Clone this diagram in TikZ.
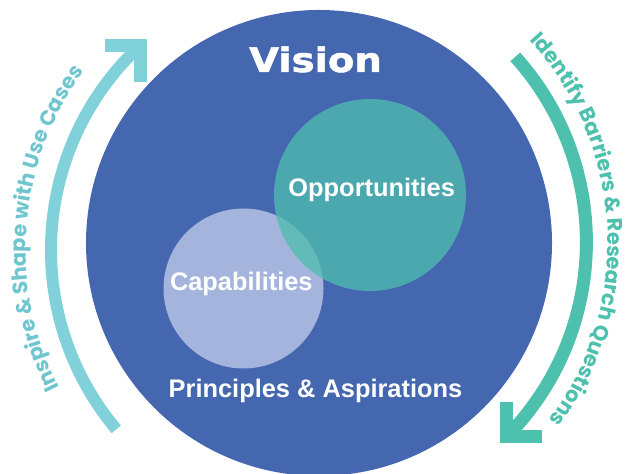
\documentclass[tikz,border=0pt]{standalone}
\usepackage{fontspec}
\setmainfont{Liberation Sans}
\newfontfamily\visionfont{DejaVu Sans}[BoldFeatures={FakeBold=1.5}]
\newfontfamily\arcfont{Poppins}
\usetikzlibrary{decorations.text}

\definecolor{visionblue}{RGB}{68,103,176}
\definecolor{capfill}{RGB}{164,180,220}
\definecolor{oppfill}{RGB}{78,190,174}
\definecolor{leftarrow}{RGB}{128,209,218}
\definecolor{lefttext}{RGB}{112,198,207}
\definecolor{rightarrow}{RGB}{77,192,174}

\tikzset{
  disc/.style={circle, inner sep=0pt, draw=none},
  bigword/.style={text=white, anchor=base, inner sep=0pt,
    font=\bfseries\fontsize{25.5}{26}\selectfont},
  cyclearrow/.style={line width=#1, line cap=butt, line join=miter},
}

\begin{document}
\begin{tikzpicture}[x=1bp, y=1bp]
  \useasboundingbox (0,0) rectangle (628,474);

  % outer vision disc and the two overlapping discs
  \node[disc, fill=visionblue, minimum size=466bp] (vision) at (319,231) {};
  \node[disc, fill=capfill, minimum size=160bp] (cap) at (243.5,185.5) {};
  \node[disc, fill=oppfill, fill opacity=0.75, minimum size=192bp] (opp) at (370,279) {};

  % labels
  \node[text=white, anchor=base, inner sep=0pt,
        font=\visionfont\bfseries\fontsize{34}{34}\selectfont]
        (visionlabel) at (315.5,402) {\scalebox{1.14}[1]{Vision}};
  \node[bigword] (opplabel) at (371.7,277) {Opportunities};
  \node[bigword] (caplabel) at (241.3,183.3) {Capabilities};
  \node[bigword] (pralabel) at (315.5,76) {Principles \& Aspirations};

  % left cycle arrow: arc upward ending in an open chevron head
  \coordinate (lc) at (330,224);
  \draw[cyclearrow=12bp, leftarrow] (lc) ++(220:279) arc[start angle=220, end angle=134, radius=279];
  \draw[cyclearrow=13bp, leftarrow] (105,428.5) -- (140.5,428.5) -- (140.5,392);

  % right cycle arrow: arc downward ending in an open chevron head
  \coordinate (rc) at (309.4,231.8);
  \draw[cyclearrow=13bp, rightarrow] (rc) ++(42:277) arc[start angle=42, end angle=-43.5, radius=277];
  \draw[cyclearrow=13bp, rightarrow] (506.5,72) -- (506.5,37.5) -- (542,37.5);

  % curved captions along the arrows
  \path[decorate, decoration={text along path, text align=center, text color=lefttext,
        text={|\arcfont\bfseries\fontsize{21}{21}\selectfont|Inspire {\&} Shape with Use Cases}}]
    (lc) ++(215:304) arc[start angle=215, end angle=136, radius=304];
  \path[decorate, decoration={text along path, text align=center, text color=rightarrow,
        text={|\arcfont\bfseries\fontsize{21}{21}\selectfont|Identify Barriers {\&} Research Questions}}]
    (rc) ++(48:298.5) arc[start angle=48, end angle=-42, radius=298.5];
\end{tikzpicture}
\end{document}
